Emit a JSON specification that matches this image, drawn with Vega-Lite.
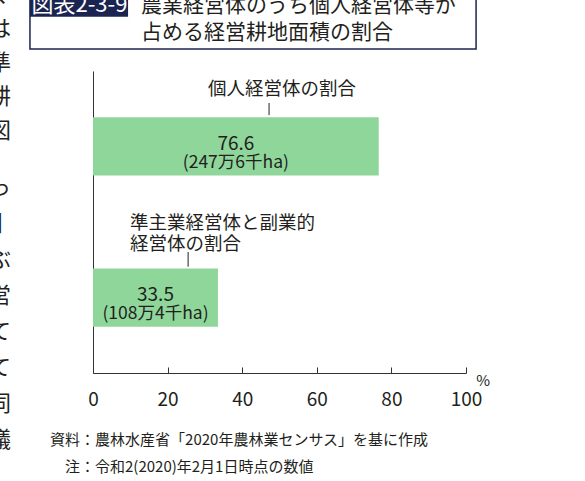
{
  "$schema": "https://vega.github.io/schema/vega-lite/v6.json",
  "width": 373,
  "height": 302,
  "autosize": {"type": "none"},
  "padding": {"left": 93, "top": 71, "right": 119, "bottom": 108},
  "background": "white",
  "config": {
    "view": {"stroke": null},
    "font": "Noto Sans CJK JP",
    "text": {"font": "Noto Sans CJK JP", "color": "#231f20"}
  },
  "datasets": {
    "share": [
      {"type": "個人経営体", "pct": 76.6, "area": "(247万6千ha)"},
      {"type": "準主業経営体と副業的経営体", "pct": 33.5, "area": "(108万4千ha)"}
    ]
  },
  "resolve": {"scale": {"x": "independent", "y": "independent"}},
  "layer": [
    {
      "data": {"name": "share"},
      "mark": {"type": "bar", "color": "#8fd69b"},
      "encoding": {
        "y": {
          "field": "type", "type": "nominal", "sort": null,
          "scale": {"paddingInner": 0.614, "paddingOuter": 0.306},
          "axis": {"labels": false, "ticks": false, "title": null, "grid": false, "domainColor": "#333", "domainWidth": 1}
        },
        "x": {
          "field": "pct", "type": "quantitative",
          "scale": {"domain": [0, 100], "nice": false},
          "axis": {
            "values": [0, 20, 40, 60, 80, 100], "title": null, "grid": false,
            "domainColor": "#333", "tickColor": "#333", "tickSize": -6,
            "labelFontSize": 19, "labelColor": "#231f20", "labelFont": "Noto Sans CJK JP",
            "labelPadding": 23, "labelFlush": false
          }
        }
      }
    },
    {
      "data": {"name": "share"},
      "mark": {"type": "text", "fontSize": 19, "dy": -3},
      "encoding": {
        "y": {"field": "type", "type": "nominal", "sort": null, "scale": {"paddingInner": 0.614, "paddingOuter": 0.306}, "axis": null},
        "x": {"field": "pct", "type": "quantitative", "scale": {"domain": [0, 200], "nice": false}, "axis": null},
        "text": {"field": "pct", "type": "quantitative", "format": ".1f"}
      }
    },
    {
      "data": {"name": "share"},
      "mark": {"type": "text", "fontSize": 17.5, "dy": 16},
      "encoding": {
        "y": {"field": "type", "type": "nominal", "sort": null, "scale": {"paddingInner": 0.614, "paddingOuter": 0.306}, "axis": null},
        "x": {"field": "pct", "type": "quantitative", "scale": {"domain": [0, 200], "nice": false}, "axis": null},
        "text": {"field": "area"}
      }
    },
    {
      "data": {"values": [{}]},
      "encoding": {
        "x": {"scale": {"domain": [0, 100], "nice": false, "zero": false}, "axis": null},
        "y": {"scale": {"domain": [0, 100], "nice": false, "zero": false}, "axis": null}
      },
      "layer": [
        {
          "mark": {"type": "rect", "filled": false, "stroke": "#1b2450", "strokeWidth": 1.5},
          "encoding": {
            "x": {"datum": -16.9, "type": "quantitative"}, "x2": {"datum": 102.7},
            "y": {"datum": 125, "type": "quantitative"}, "y2": {"datum": 107.3}
          }
        },
        {
          "mark": {"type": "rect", "color": "#1b2450"},
          "encoding": {
            "x": {"datum": -16.9, "type": "quantitative"}, "x2": {"datum": 9.4},
            "y": {"datum": 125, "type": "quantitative"}, "y2": {"datum": 118.0}
          }
        },
        {
          "mark": {"type": "text", "text": "図表2-3-9", "color": "white", "fontSize": 22, "align": "left", "baseline": "middle"},
          "encoding": {
            "x": {"datum": -16.5, "type": "quantitative"},
            "y": {"datum": 122.0, "type": "quantitative"}
          }
        },
        {
          "mark": {"type": "text", "text": "農業経営体のうち個人経営体等が", "fontSize": 21, "align": "left", "baseline": "middle"},
          "encoding": {
            "x": {"datum": 12.9, "type": "quantitative"},
            "y": {"datum": 121.4, "type": "quantitative"}
          }
        },
        {
          "mark": {"type": "text", "text": "占める経営耕地面積の割合", "fontSize": 21, "align": "left", "baseline": "middle"},
          "encoding": {
            "x": {"datum": 12.9, "type": "quantitative"},
            "y": {"datum": 112.7, "type": "quantitative"}
          }
        },
        {
          "mark": {"type": "text", "text": ["く", "は", "準", "耕", "図"], "fontSize": 22, "lineHeight": 34, "align": "center", "baseline": "top", "color": "#231f20"},
          "encoding": {
            "x": {"datum": -24.9, "type": "quantitative"},
            "y": {"datum": 128.5, "type": "quantitative"}
          }
        },
        {
          "mark": {"type": "text", "text": ["っ", "丨", "ぶ", "営", "て", "て", "同", "議"], "fontSize": 22, "lineHeight": 36, "align": "center", "baseline": "top", "color": "#231f20"},
          "encoding": {
            "x": {"datum": -24.9, "type": "quantitative"},
            "y": {"datum": 64.6, "type": "quantitative"}
          }
        },
        {
          "mark": {"type": "text", "text": "個人経営体の割合", "fontSize": 18.5, "align": "left", "baseline": "middle"},
          "encoding": {
            "x": {"datum": 30.8, "type": "quantitative"},
            "y": {"datum": 94.0, "type": "quantitative"}
          }
        },
        {
          "mark": {"type": "text", "text": ["準主業経営体と副業的", "経営体の割合"], "fontSize": 18.5, "lineHeight": 21, "align": "left", "baseline": "middle"},
          "encoding": {
            "x": {"datum": 9.9, "type": "quantitative"},
            "y": {"datum": 49.7, "type": "quantitative"}
          }
        },
        {
          "mark": {"type": "rule", "color": "#231f20", "strokeWidth": 1},
          "encoding": {
            "x": {"datum": 47.2, "type": "quantitative"},
            "y": {"datum": 89.4, "type": "quantitative"}, "y2": {"datum": 85.4}
          }
        },
        {
          "mark": {"type": "rule", "color": "#231f20", "strokeWidth": 1},
          "encoding": {
            "x": {"datum": 25.5, "type": "quantitative"},
            "y": {"datum": 40.1, "type": "quantitative"}, "y2": {"datum": 35.2}
          }
        },
        {
          "mark": {"type": "text", "text": "%", "fontSize": 15, "align": "center", "baseline": "middle"},
          "encoding": {
            "x": {"datum": 104.6, "type": "quantitative"},
            "y": {"datum": -2.6, "type": "quantitative"}
          }
        },
        {
          "mark": {"type": "text", "text": "資料：農林水産省「2020年農林業センサス」を基に作成", "fontSize": 15, "align": "left", "baseline": "middle"},
          "encoding": {
            "x": {"datum": -11.5, "type": "quantitative"},
            "y": {"datum": -22.2, "type": "quantitative"}
          }
        },
        {
          "mark": {"type": "text", "text": "注：令和2(2020)年2月1日時点の数値", "fontSize": 15, "align": "left", "baseline": "middle"},
          "encoding": {
            "x": {"datum": -7.5, "type": "quantitative"},
            "y": {"datum": -31.1, "type": "quantitative"}
          }
        }
      ]
    }
  ]
}
